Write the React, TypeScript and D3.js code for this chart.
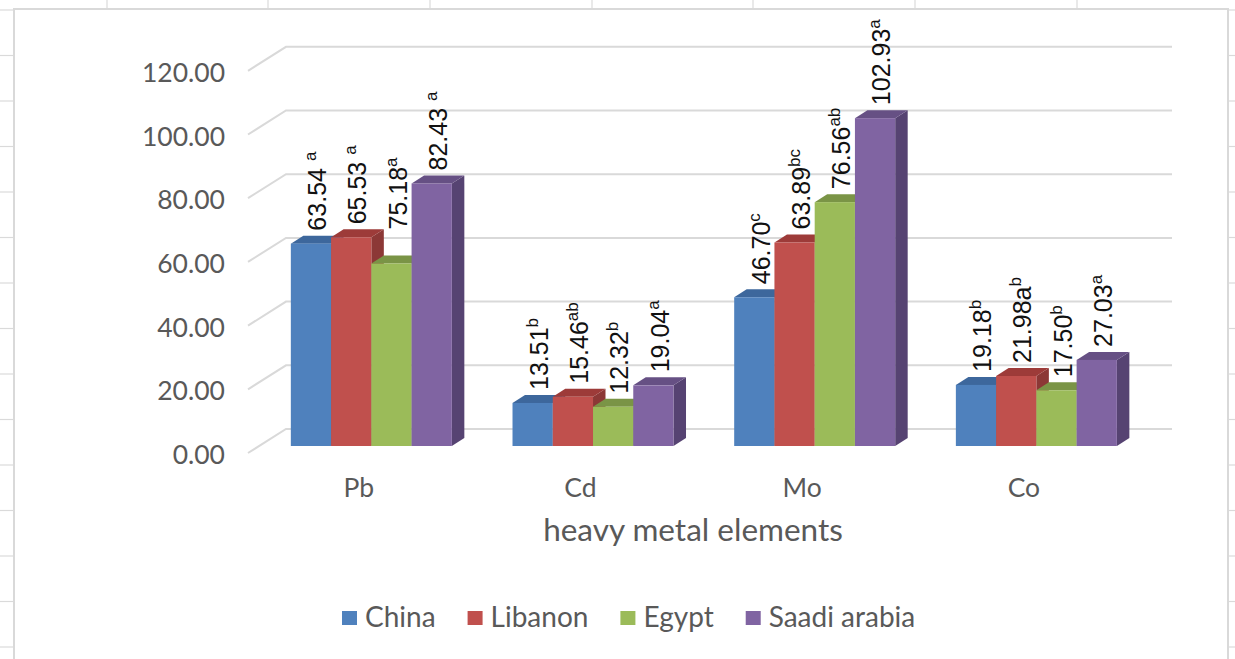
import React from "react";
import * as d3 from "d3";

const categories = ["Pb", "Cd", "Mo", "Co"];
const seriesNames = ["China", "Libanon", "Egypt", "Saadi arabia"];
const chinaValues = [63.54, 13.51, 46.7, 19.18];
const libanonValues = [65.53, 15.46, 63.89, 21.98];
const egyptValues = [57.3, 12.32, 76.56, 17.5];
const saadiValues = [82.43, 19.04, 102.93, 27.03];
const chinaLabels = [["63.54 ", "a"], ["13.51", "b"], ["46.70", "c"], ["19.18", "b"]];
const libanonLabels = [["65.53 ", "a"], ["15.46", "ab"], ["63.89", "bc"], ["21.98a", "b"]];
const egyptLabels = [["75.18", "a"], ["12.32", "b"], ["76.56", "ab"], ["17.50", "b"]];
const saadiLabels = [["82.43 ", "a"], ["19.04", "a"], ["102.93", "a"], ["27.03", "a"]];
const yTicks = [0, 20, 40, 60, 80, 100, 120];
const axisTitle = "heavy metal elements";

const seriesValues = [chinaValues, libanonValues, egyptValues, saadiValues];
const seriesLabels = [chinaLabels, libanonLabels, egyptLabels, saadiLabels];
const faceColors = [
  { front: "#4f81bd", top: "#3d679c", side: "#385d8a" },
  { front: "#c0504d", top: "#9d3b39", side: "#8c3836" },
  { front: "#9bbb59", top: "#7a9446", side: "#6f873f" },
  { front: "#8064a2", top: "#665084", side: "#564372" },
];

const W = 1235;
const H = 659;
const FONT = "Lato, 'Open Sans', sans-serif";
const GRAY = "#595959";

function textWidth(t: string, font: string) {
  if (typeof document === "undefined") return t.length * 12;
  const c = document.createElement("canvas").getContext("2d");
  if (!c) return t.length * 12;
  c.font = font;
  return c.measureText(t).width;
}

export default function App() {
  const floorDx = 38;
  const floorDy = -24;
  const barDx = 12.5;
  const barDy = -8;

  const yFront = d3.scaleLinear().domain([0, 120]).range([453, 453 - 382.2]);
  const yBack = (v: number) => yFront(v) + floorDy;
  const yBar = d3.scaleLinear().domain([0, 120]).range([446, 446 - 382.2]);

  const xBand = d3.scaleBand<string>().domain(categories).range([248, 1134.7]);
  const inner = d3.scaleBand<string>().domain(seriesNames).range([-80.5, 80.5]);
  const bw = inner.bandwidth();
  const barShift = 12.5;

  const backLeft = 248 + floorDx;
  const backRight = 1172;

  // spreadsheet grid
  const colLines = [107, 268, 430, 592, 753, 915, 1077];
  const rowLines = d3.range(0, 15).map((k) => 10 + 45.5 * k);

  // legend layout
  const legendSize = 28;
  const legendFont = `${legendSize}px ${FONT}`;
  let lx = 342;
  const legendItems = seriesNames.map((name, i) => {
    const item = { name, i, x: lx };
    lx += 23 + textWidth(name, legendFont) + 32;
    return item;
  });

  const bars: React.ReactNode[] = [];
  const labels: React.ReactNode[] = [];
  categories.forEach((cat, ci) => {
    const center = (xBand(cat) as number) + xBand.bandwidth() / 2 + barShift;
    seriesNames.forEach((s, si) => {
      const v = seriesValues[si][ci];
      const x0 = center + (inner(s) as number);
      const x1 = x0 + bw;
      const yb = yBar(0);
      const yt = yBar(v);
      const c = faceColors[si];
      const side = `M${x1},${yt} L${x1 + barDx},${yt + barDy} L${x1 + barDx},${yb + barDy} L${x1},${yb} Z`;
      const top = `M${x0},${yt} L${x0 + barDx},${yt + barDy} L${x1 + barDx},${yt + barDy} L${x1},${yt} Z`;
      bars.push(
        <g key={`b-${cat}-${s}`}>
          <path d={side} fill={c.side} />
          <path d={top} fill={c.top} />
          <rect x={x0} y={yt} width={bw} height={yb - yt} fill={c.front} />
        </g>
      );
      const [main, sup] = seriesLabels[si][ci];
      const nudge = cat === "Pb" && s === "Egypt" ? -21 : 0;
      const lxp = x0 + bw / 2 + barDx / 2 + 9;
      const lyp = yt + barDy - 5 + nudge;
      labels.push(
        <text
          key={`l-${cat}-${s}`}
          transform={`translate(${lxp},${lyp}) rotate(-90)`}
          fontFamily="'Liberation Sans', Arial, sans-serif"
          fontSize={25}
          fill="#111"
        >
          <tspan>{main}</tspan>
          <tspan fontSize={17} dy={-10}>{sup}</tspan>
        </text>
      );
    });
  });

  return (
    <svg
      width={W}
      height={H}
      style={{ position: "absolute", left: 0, top: 0, background: "#fff" }}
    >
      {/* spreadsheet background */}
      <g stroke="#dadada" strokeWidth={1.2}>
        {colLines.map((x) => (
          <line key={`c${x}`} x1={x} x2={x} y1={0} y2={9} />
        ))}
        {rowLines.map((y) => (
          <g key={`r${y}`}>
            <line x1={0} x2={14} y1={y} y2={y} />
            <line x1={1228} x2={W} y1={y} y2={y} />
          </g>
        ))}
      </g>
      {/* chart area */}
      <rect x={14} y={9} width={1214} height={700} fill="#fff" stroke="#d9d9d9" strokeWidth={2} />

      {/* gridlines */}
      <g stroke="#d9d9d9" strokeWidth={2} fill="none">
        {yTicks.map((t) => (
          <path
            key={`g${t}`}
            d={`M248,${yFront(t)} L${backLeft},${yBack(t)} L${backRight},${yBack(t)}`}
          />
        ))}
      </g>

      {/* y tick labels */}
      <g fontFamily={FONT} fontSize={26.5} fill={GRAY} textAnchor="end">
        {yTicks.map((t) => (
          <text key={`t${t}`} x={225} y={yFront(t) + 11}>
            {d3.format(".2f")(t)}
          </text>
        ))}
      </g>

      {bars}
      {labels}

      {/* category labels */}
      <g fontFamily={FONT} fontSize={26.5} fill={GRAY} textAnchor="middle">
        {categories.map((c) => (
          <text key={`x${c}`} x={(xBand(c) as number) + xBand.bandwidth() / 2} y={497}>
            {c}
          </text>
        ))}
      </g>

      <text x={693} y={541} fontFamily={FONT} fontSize={31.5} fill={GRAY} textAnchor="middle">
        {axisTitle}
      </text>

      {/* legend */}
      <g fontFamily={FONT} fontSize={legendSize} fill={GRAY}>
        {legendItems.map((it) => (
          <g key={`lg${it.name}`}>
            <rect x={it.x} y={611} width={15} height={14} fill={faceColors[it.i].front} />
            <text x={it.x + 23} y={627}>
              {it.name}
            </text>
          </g>
        ))}
      </g>
    </svg>
  );
}
